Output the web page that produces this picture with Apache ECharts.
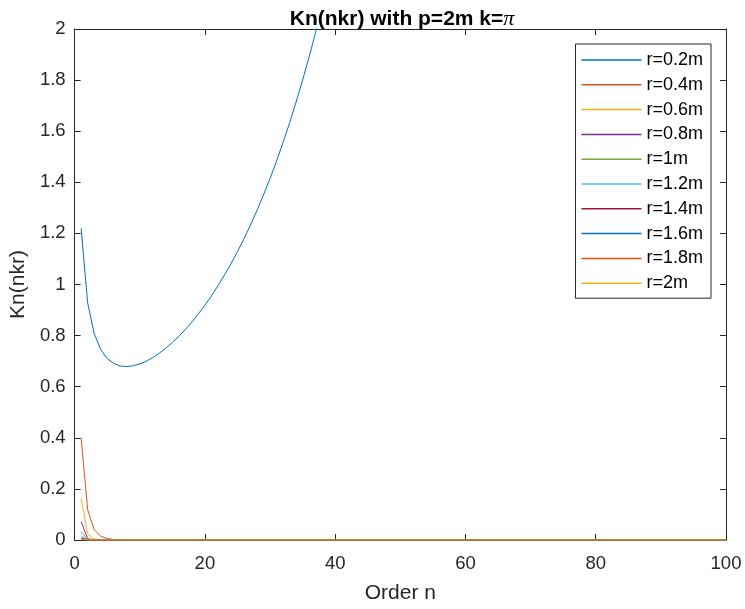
<!DOCTYPE html>
<html><head><meta charset="utf-8">
<script src="https://cdn.jsdelivr.net/npm/echarts@6/dist/echarts.min.js"></script>
<style>html,body{margin:0;padding:0;background:#fff}#c{width:745px;height:609px}</style>
</head><body><div id="c"></div>
<script>
const titleText = 'Kn(nkr) with p=2m k=';
const xName = 'Order n';
const yName = 'Kn(nkr)';
const xTicks = [0, 20, 40, 60, 80, 100];
const yTicks = [0, 0.2, 0.4, 0.6, 0.8, 1, 1.2, 1.4, 1.6, 1.8, 2];
const seriesNames = ['r=0.2m','r=0.4m','r=0.6m','r=0.8m','r=1m','r=1.2m','r=1.4m','r=1.6m','r=1.8m','r=2m'];
const colors = ['#0072BD','#D95319','#EDB120','#7E2F8E','#77AC30','#4DBEEE','#A2142F','#0072BD','#D95319','#EDB120'];
// values as [n, Kn] pairs
const r02 = [[1,1.22],[2,0.928],[3,0.808],[4,0.746],[5,0.710],[6,0.691],[7,0.681],[8,0.679],[9,0.682],[10,0.689],
  [11,0.700],[12,0.714],[13,0.731],[14,0.751],[15,0.773],[16,0.797],[17,0.824],[18,0.853],[19,0.885],[20,0.919],
  [21,0.955],[22,0.995],[23,1.037],[24,1.081],[25,1.129],[26,1.179],[27,1.233],[28,1.290],[29,1.351],[30,1.415],
  [31,1.483],[32,1.556],[33,1.632],[34,1.714],[35,1.800],[36,1.891],[37,1.987],[38,2.089],[39,2.198],[40,2.312]];
const r04 = [[1,0.40],[2,0.119],[3,0.041],[4,0.0148],[5,0.0055],[6,0.0021],[7,0.0008],[8,0.0003],[9,0.0001],[10,0],[100,0]];
const r06 = [[1,0.163],[2,0.0234],[3,0.0041],[4,0.0008],[5,0.0001],[6,0],[100,0]];
const r08 = [[1,0.0727],[2,0.0052],[3,0.0004],[4,0],[100,0]];
const r10 = [[1,0.034],[2,0.0014],[3,0.0001],[4,0],[100,0]];
const r12 = [[1,0.0166],[2,0.0004],[3,0],[100,0]];
const r14 = [[1,0.0079],[2,0.0001],[3,0],[100,0]];
const r16 = [[1,0.0039],[2,0],[100,0]];
const r18 = [[1,0.0020],[2,0],[100,0]];
const r20 = [[1,0.00098],[2,0],[100,0]];
const allData = [r02,r04,r06,r08,r10,r12,r14,r16,r18,r20];

const FONT = 'Liberation Sans';
const AX = '#262626';
const chart = echarts.init(document.getElementById('c'), null, {renderer:'canvas'});
function baseAxis(extra){
  return Object.assign({
    axisLine:{show:true, onZero:false, lineStyle:{color:AX, width:1}},
    axisTick:{show:true, inside:true, length:6, lineStyle:{color:AX}},
    splitLine:{show:false}
  }, extra);
}
chart.setOption({
  animation:false,
  backgroundColor:'#fff',
  title:{
    text: '{t|' + titleText + '}{p|π}',
    left: 397, top: 3, textAlign:'center',
    textStyle:{rich:{
      t:{fontFamily:FONT, fontWeight:'bold', fontSize:21, color:'#000'},
      p:{fontFamily:'Liberation Serif', fontWeight:'normal', fontStyle:'italic', fontSize:22, color:'#000'}
    }}
  },
  grid:{left:74, right:19, top:29, bottom:66, containLabel:false},
  legend:{
    orient:'vertical', right:34, top:44,
    backgroundColor:'#fff', borderColor:AX, borderWidth:1,
    padding:[7,8,6,6], itemGap:6.8,
    itemWidth:60, itemHeight:1.5, icon:'rect',
    textStyle:{fontFamily:FONT, fontSize:18, color:'#000'},
    data: seriesNames
  },
  xAxis:[
    baseAxis({type:'value', min:0, max:100, interval:20, position:'bottom',
      name:xName, nameLocation:'middle', nameGap:43,
      nameTextStyle:{fontFamily:FONT, fontSize:21, color:AX},
      axisLabel:{fontFamily:FONT, fontSize:18.5, color:AX, margin:14}}),
    baseAxis({type:'value', min:0, max:100, interval:20, position:'top',
      axisLabel:{show:false}})
  ],
  yAxis:[
    baseAxis({type:'value', min:0, max:2, interval:0.2, position:'left',
      name:yName, nameLocation:'middle', nameGap:44,
      nameTextStyle:{fontFamily:FONT, fontSize:21, color:AX},
      axisLabel:{fontFamily:FONT, fontSize:18.5, color:AX, margin:9,
        formatter:v=>String(Math.round(v*10)/10)}}),
    baseAxis({type:'value', min:0, max:2, interval:0.2, position:'right',
      axisLabel:{show:false}})
  ],
  series: allData.map((d,i)=>({
    name: seriesNames[i], type:'line', data:d, xAxisIndex:0, yAxisIndex:0,
    showSymbol:false, symbol:'none', clip:true,
    lineStyle:{color:colors[i], width:1}, itemStyle:{color:colors[i]}
  }))
});
</script></body></html>
